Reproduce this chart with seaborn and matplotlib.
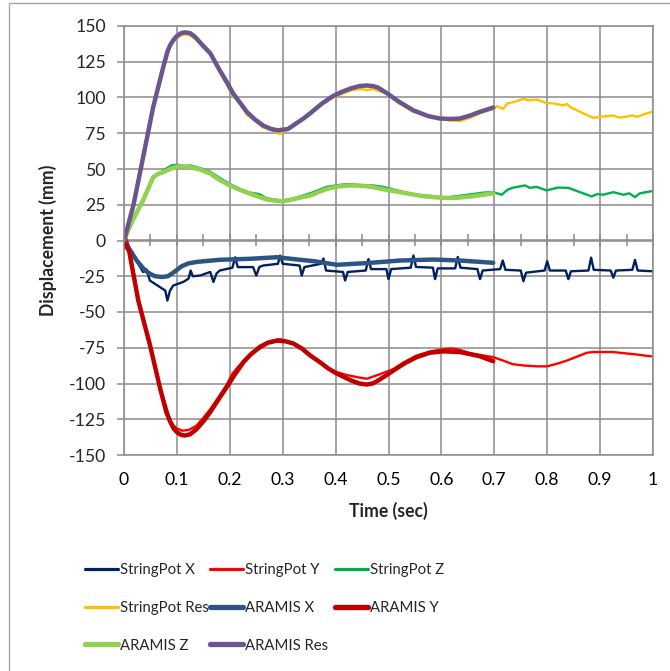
import numpy as np
import pandas as pd
import seaborn as sns
from matplotlib import pyplot as plt
from matplotlib.lines import Line2D
from matplotlib.patches import Rectangle

# (time sec, displacement mm)
sp_x = [(0, -6), (0.005, 0), (0.012, -7), (0.024, -14.5), (0.036, -22), (0.042, -20), (0.049, -28),
        (0.068, -32.6), (0.078, -35), (0.082, -42), (0.087, -35), (0.093, -31.5), (0.112, -29),
        (0.122, -26.7), (0.126, -21), (0.13, -25), (0.144, -24.5), (0.163, -22), (0.169, -29),
        (0.175, -23), (0.181, -21), (0.205, -19), (0.21, -11.7), (0.215, -18.6), (0.244, -18.6),
        (0.25, -24.5), (0.256, -18.5), (0.263, -17.5), (0.291, -16.3), (0.295, -10.5), (0.3, -16.3),
        (0.332, -17.5), (0.336, -24.5), (0.341, -18.6), (0.372, -16.3), (0.377, -12.6), (0.382, -21),
        (0.414, -22), (0.418, -28), (0.423, -22), (0.457, -21), (0.462, -13), (0.467, -20),
        (0.496, -20), (0.5, -27), (0.505, -20), (0.542, -19), (0.547, -10.5), (0.552, -18.5),
        (0.584, -19), (0.588, -27), (0.593, -19.5), (0.626, -19.5), (0.631, -11.5), (0.636, -19),
        (0.668, -20), (0.673, -27), (0.678, -21), (0.711, -20), (0.716, -14), (0.721, -20.5),
        (0.75, -21), (0.755, -28.5), (0.76, -22.5), (0.795, -21), (0.8, -14.5), (0.805, -21),
        (0.835, -21), (0.84, -27), (0.845, -21.5), (0.878, -21), (0.883, -12), (0.888, -20.5),
        (0.92, -21), (0.925, -26), (0.93, -21), (0.961, -20.5), (0.966, -13.5), (0.971, -21),
        (1.0, -21.5)]

sp_y = [(0, -2), (0.005, 1), (0.012, -10), (0.027, -42), (0.049, -72), (0.068, -102.6), (0.087, -125),
        (0.094, -129.5), (0.1, -131.5), (0.11, -133), (0.122, -132.5), (0.13, -131), (0.137, -129.5),
        (0.15, -124), (0.163, -118), (0.178, -110), (0.194, -101), (0.205, -93), (0.226, -84),
        (0.24, -79), (0.257, -73.5), (0.275, -70.5), (0.295, -69), (0.32, -72), (0.335, -75),
        (0.352, -80), (0.37, -84.5), (0.39, -90), (0.402, -92), (0.42, -94), (0.44, -95.5),
        (0.459, -96.7), (0.48, -94), (0.509, -90), (0.53, -85), (0.553, -80.5), (0.58, -77.5),
        (0.604, -76), (0.62, -75.5), (0.635, -76.5), (0.655, -79), (0.673, -80), (0.698, -81.6),
        (0.717, -84), (0.735, -86.5), (0.755, -87.4), (0.78, -88), (0.8, -88), (0.82, -86),
        (0.837, -84), (0.862, -80.4), (0.875, -78.5), (0.887, -78), (0.925, -78), (0.95, -79),
        (0.969, -79.7), (0.985, -80.5), (0.997, -81)]

sp_z = [(0, 0), (0.01, 8), (0.021, 18), (0.036, 29), (0.055, 45), (0.065, 46), (0.074, 49),
        (0.09, 52.5), (0.1, 53), (0.115, 52), (0.125, 52.5), (0.145, 50.5), (0.163, 48), (0.18, 44),
        (0.2, 39.5), (0.22, 36), (0.238, 33.5), (0.255, 32.5), (0.27, 29.5), (0.295, 28), (0.31, 28.5),
        (0.326, 30), (0.352, 33), (0.37, 35.5), (0.383, 37.5), (0.41, 39), (0.427, 39.5), (0.45, 38.5),
        (0.471, 38.5), (0.49, 37.5), (0.522, 34.5), (0.55, 32), (0.585, 31), (0.6, 29.5), (0.629, 31),
        (0.66, 32.5), (0.68, 33.5), (0.698, 33.8), (0.714, 32), (0.725, 35.5), (0.736, 37),
        (0.758, 38.5), (0.767, 36.8), (0.78, 37.5), (0.799, 35), (0.82, 37), (0.84, 36.8),
        (0.862, 33.8), (0.884, 30.8), (0.895, 32.5), (0.906, 32), (0.925, 33.8), (0.944, 32),
        (0.955, 33), (0.966, 30.3), (0.975, 33), (0.998, 34.5)]

sp_res = [(0, 8), (0.005, 2), (0.018, 24), (0.036, 56), (0.055, 92), (0.074, 120), (0.087, 135),
          (0.094, 139.5), (0.1, 141.5), (0.108, 143.5), (0.115, 144), (0.125, 143.5), (0.135, 141),
          (0.15, 135), (0.163, 130), (0.181, 118), (0.206, 101), (0.22, 96), (0.232, 88), (0.25, 83),
          (0.263, 79), (0.28, 77), (0.295, 74.5), (0.31, 78), (0.326, 82), (0.352, 88), (0.37, 94),
          (0.395, 100), (0.43, 105), (0.45, 106), (0.459, 105), (0.47, 106), (0.497, 102.5),
          (0.52, 96), (0.547, 90), (0.565, 88), (0.585, 86), (0.6, 86.5), (0.615, 84), (0.635, 83.5),
          (0.655, 86), (0.673, 89), (0.698, 92), (0.705, 94), (0.717, 92), (0.725, 96), (0.736, 96.7),
          (0.755, 99), (0.765, 98), (0.78, 98.6), (0.8, 96), (0.81, 96), (0.83, 94.5), (0.837, 95.5),
          (0.845, 93), (0.862, 90), (0.887, 85.7), (0.9, 86.5), (0.925, 87.4), (0.935, 86),
          (0.95, 86.5), (0.96, 87.5), (0.97, 86.5), (0.985, 88.5), (0.998, 90)]

ar_x = [(0, 0), (0.012, -7), (0.024, -14), (0.04, -21), (0.05, -23.5), (0.059, -25), (0.072, -25.5),
        (0.083, -25), (0.095, -22), (0.109, -18), (0.122, -16), (0.137, -15), (0.181, -13.5),
        (0.238, -12.8), (0.289, -11.7), (0.333, -13.5), (0.36, -14.5), (0.402, -17), (0.459, -15.8),
        (0.522, -14), (0.585, -13.3), (0.635, -14), (0.698, -15.6)]

ar_y = [(0, 0), (0.01, -8), (0.027, -42), (0.049, -73), (0.068, -103), (0.08, -120), (0.087, -126.5),
        (0.094, -131.5), (0.1, -134), (0.107, -135.8), (0.115, -136.4), (0.125, -135.5),
        (0.137, -132), (0.15, -126.5), (0.163, -120), (0.178, -111.5), (0.194, -102.6),
        (0.21, -93.5), (0.226, -85), (0.24, -79.5), (0.257, -74.6), (0.272, -71.5), (0.289, -70),
        (0.305, -70.5), (0.32, -72), (0.336, -75.5), (0.352, -80.4), (0.37, -85), (0.386, -89.5),
        (0.402, -93), (0.43, -98), (0.445, -100), (0.459, -100.7), (0.47, -100), (0.48, -98),
        (0.495, -94.5), (0.509, -91), (0.53, -86), (0.553, -81.6), (0.578, -78.5), (0.604, -77.5),
        (0.635, -78), (0.655, -79.5), (0.673, -81), (0.698, -84.4)]

ar_z = [(0, 0), (0.01, 9), (0.021, 17.5), (0.036, 28), (0.055, 44), (0.064, 46.5), (0.074, 47.8),
        (0.087, 50), (0.1, 51.7), (0.112, 51.8), (0.125, 51.3), (0.145, 49.5), (0.163, 46.8),
        (0.18, 42.5), (0.2, 38.5), (0.22, 35.3), (0.238, 32.8), (0.255, 30.5), (0.27, 28.7),
        (0.295, 27.5), (0.31, 28), (0.326, 29.4), (0.352, 31.5), (0.383, 36), (0.405, 37.8),
        (0.427, 38.5), (0.45, 38.3), (0.471, 37.3), (0.495, 35.5), (0.522, 33.8), (0.56, 31.3),
        (0.585, 30.3), (0.61, 29.8), (0.629, 29.8), (0.66, 31), (0.698, 33)]

ar_res = [(0, 0), (0.018, 25), (0.036, 58), (0.055, 93), (0.074, 121), (0.082, 132), (0.087, 136.5),
          (0.094, 140.5), (0.1, 143), (0.108, 145), (0.115, 145.6), (0.125, 145), (0.134, 142.5),
          (0.15, 136), (0.163, 131), (0.181, 119), (0.194, 111), (0.206, 103), (0.22, 96),
          (0.232, 90), (0.248, 84.5), (0.263, 80.4), (0.278, 78), (0.291, 77), (0.31, 78), (0.326, 82),
          (0.34, 85.5), (0.352, 89), (0.375, 96), (0.395, 101), (0.412, 104), (0.43, 106.5),
          (0.445, 108), (0.459, 108.4), (0.47, 108), (0.48, 107), (0.497, 103), (0.52, 97),
          (0.547, 91), (0.575, 87), (0.597, 85.3), (0.615, 85), (0.635, 85.3), (0.655, 87.5),
          (0.673, 90), (0.698, 93)]

x_ticks = [0, 0.1, 0.2, 0.3, 0.4, 0.5, 0.6, 0.7, 0.8, 0.9, 1]
x_labels = ["0", "0.1", "0.2", "0.3", "0.4", "0.5", "0.6", "0.7", "0.8", "0.9", "1"]
y_ticks = list(range(-150, 151, 25))

series = [
    ("StringPot X", sp_x, "#002060", 1.7),
    ("StringPot Y", sp_y, "#FF0000", 1.7),
    ("StringPot Z", sp_z, "#00B050", 1.7),
    ("StringPot Res", sp_res, "#FFC000", 1.7),
    ("ARAMIS X", ar_x, "#2C5585", 3.2),
    ("ARAMIS Y", ar_y, "#C00000", 3.2),
    ("ARAMIS Z", ar_z, "#92D050", 3.2),
    ("ARAMIS Res", ar_res, "#6A5590", 3.2),
]

sns.set_theme(style="white")
plt.rcParams['font.family'] = ['Lato', 'DejaVu Sans']
plt.rcParams['axes.unicode_minus'] = False
grid_c = "#8c8c8c"

fig = plt.figure(figsize=(6.7, 6.71), dpi=100)
ax = fig.add_axes([124/670, 1 - 455/671, 529/670, 429/671])

handles = []
for name, pts, color, lw in series:
    df = pd.DataFrame(pts, columns=["t", "v"])
    sns.lineplot(data=df, x="t", y="v", ax=ax, color=color, linewidth=lw,
                 estimator=None, sort=False, legend=False)
    handles.append(Line2D([], [], color=color, linewidth=lw + 0.6, label=name))

ax.set_xlim(0, 1)
ax.set_ylim(-150, 150)
ax.set_xticks(x_ticks)
ax.set_xticklabels(x_labels)
ax.set_yticks(y_ticks)
ax.set_axisbelow(True)
ax.grid(True, color=grid_c, linewidth=1.1)
for s in ax.spines.values():
    s.set_visible(True)
    s.set_color(grid_c)
    s.set_linewidth(1.1)

ax.tick_params(axis='x', length=0, pad=12, labelsize=12.7, colors="black")
ax.tick_params(axis='y', direction='out', left=True, length=5, width=1.1, color=grid_c,
               pad=8, labelsize=12.7)

# horizontal axis crossing at y = 0, with tick marks every 0.05
sec = ax.secondary_xaxis(0.5)
sec.set_xticks(np.arange(0, 1.0001, 0.05))
sec.tick_params(axis='x', direction='inout', length=9, width=1.1, color=grid_c,
                top=True, bottom=False, labeltop=False, labelbottom=False)
for s in sec.spines.values():
    s.set_color(grid_c)
    s.set_linewidth(1.1)

ax.set_xlabel("Time (sec)", fontsize=12.7, fontweight='bold', labelpad=10)
ax.set_ylabel("Displacement (mm)", fontsize=12.7, fontweight='bold')
ax.yaxis.set_label_coords((57 - 124) / 529, 0.5)

# Excel-like legend: 3 per row, row-wise order
cols = [[0, 3, 6], [1, 4, 7], [2, 5]]
col_x = [85, 210, 335]
for idx, cx in zip(cols, col_x):
    fig.legend(handles=[handles[i] for i in idx], loc='upper left',
               bbox_to_anchor=(cx / 670, 1 - 563 / 671), frameon=False, fontsize=10.7,
               handlelength=2.2, handletextpad=0.15, labelspacing=1.6,
               borderpad=0, borderaxespad=0)

fig.patches.append(Rectangle((9 / 670, -0.1), 1.2, 1 - 3 / 671 + 0.1, transform=fig.transFigure,
                             fill=False, edgecolor="#a6a6a6", linewidth=1.0))

fig.savefig("out.png", dpi=100)
